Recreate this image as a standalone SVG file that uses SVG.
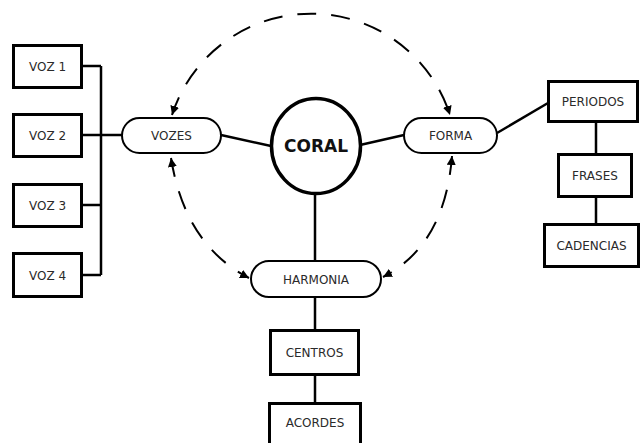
<svg xmlns="http://www.w3.org/2000/svg" width="640" height="443" viewBox="0 0 640 443">
<style>
.box{fill:#fff;stroke:#000;stroke-width:3}
.pill{fill:#fff;stroke:#000;stroke-width:2}
.lbl{font-family:"DejaVu Sans",sans-serif;font-size:12px;fill:#2a2a2a;text-anchor:middle}
.big{font-family:"DejaVu Sans",sans-serif;font-size:17px;font-weight:bold;fill:#111;text-anchor:middle}
.ln{fill:none;stroke:#000;stroke-width:2.5}
.dash{fill:none;stroke:#000;stroke-width:2;stroke-dasharray:19 15;marker-start:url(#ah);marker-end:url(#ah)}
</style>
<defs>
<marker id="ah" viewBox="0 0 10 10" refX="10" refY="5" markerWidth="9" markerHeight="9" markerUnits="userSpaceOnUse" orient="auto-start-reverse">
<path d="M0,0 L10,5 L0,10 z" fill="#000"/>
</marker>
</defs>
<rect width="640" height="443" fill="#fff"/>
<g id="connectors">
<path class="ln" d="M101,66 V275 M82,66 H101 M82,135 H122 M82,205 H101 M82,275 H101"/>
<path class="ln" d="M221,135 L271,146"/>
<path class="ln" d="M360,145 L404,135"/>
<path class="ln" d="M497,133 L548,103"/>
<path class="ln" d="M596,122 V154 M596,196 V224"/>
<path class="ln" d="M315,194 V261 M315,297 V330 M315,374 V403"/>
<path class="dash" d="M172,115 A146,146 0 0 1 450,115"/>
<path class="dash" d="M171,158 Q185,245 249,278"/>
<path class="dash" d="M452,156 Q445,245 383,277"/>
</g>
<g id="voz1"><rect class="box" x="13.5" y="45.5" width="68" height="42"/><text class="lbl" x="47.5" y="71">VOZ 1</text></g>
<g id="voz2"><rect class="box" x="13.5" y="114.5" width="68" height="42"/><text class="lbl" x="47.5" y="140">VOZ 2</text></g>
<g id="voz3"><rect class="box" x="13.5" y="184.5" width="68" height="42"/><text class="lbl" x="47.5" y="210">VOZ 3</text></g>
<g id="voz4"><rect class="box" x="13.5" y="253.5" width="68" height="43"/><text class="lbl" x="47.5" y="279.5">VOZ 4</text></g>
<g id="vozes"><rect class="pill" x="122" y="118" width="99" height="35" rx="17.5"/><text class="lbl" x="171.5" y="140">VOZES</text></g>
<g id="coral"><ellipse cx="316" cy="146" rx="44.5" ry="47.5" fill="#fff" stroke="#000" stroke-width="3.5"/><text class="big" x="316" y="152">CORAL</text></g>
<g id="forma"><rect class="pill" x="404" y="118" width="93" height="35" rx="17.5"/><text class="lbl" x="450.5" y="140">FORMA</text></g>
<g id="harmonia"><rect class="pill" x="251" y="261" width="130" height="36" rx="18"/><text class="lbl" x="316" y="283.5">HARMONIA</text></g>
<g id="periodos"><rect class="box" x="548.5" y="81.5" width="89" height="40"/><text class="lbl" x="593" y="106">PERIODOS</text></g>
<g id="frases"><rect class="box" x="558.5" y="154.5" width="73" height="42"/><text class="lbl" x="595" y="180">FRASES</text></g>
<g id="cadencias"><rect class="box" x="544.5" y="224.5" width="94" height="42"/><text class="lbl" x="591.5" y="250">CADENCIAS</text></g>
<g id="centros"><rect class="box" x="270.5" y="330.5" width="88" height="44"/><text class="lbl" x="314.5" y="357">CENTROS</text></g>
<g id="acordes"><rect class="box" x="269.5" y="403.5" width="91" height="50"/><text class="lbl" x="315" y="427">ACORDES</text></g>
</svg>
